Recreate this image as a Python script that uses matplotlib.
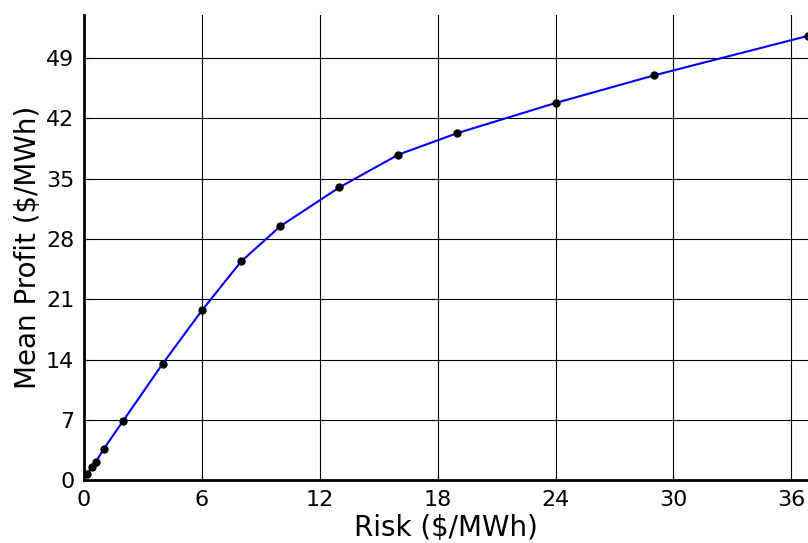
import matplotlib
matplotlib.use("Agg")
import matplotlib.pyplot as plt

risk = [0.15, 0.4, 0.6, 1.0, 2.0, 4.0, 6.0, 8.0, 10.0, 13.0, 16.0, 19.0, 24.0, 29.0, 36.85]
profit = [0.7, 1.5, 2.1, 3.6, 6.9, 13.5, 19.7, 25.4, 29.5, 34.0, 37.8, 40.3, 43.8, 47.0, 51.6]
xticks = [0, 6, 12, 18, 24, 30, 36]
yticks = [0, 7, 14, 21, 28, 35, 42, 49]

fig = plt.figure(figsize=(8.08, 5.43), dpi=100)
ax = fig.add_axes([0.104, 0.116, 0.896, 0.856])

ax.plot(risk, profit, color="blue", lw=1.5, zorder=3)
ax.plot(risk, profit, "o", color="black", ms=5, zorder=4, clip_on=False)

ax.set_xlim(0, 36.85)
ax.set_ylim(0, 54)
ax.set_xticks(xticks)
ax.set_yticks(yticks)
ax.grid(True, color="black", lw=0.8)
ax.tick_params(direction="in", labelsize=16, pad=7)
for s in ["top", "right"]:
    ax.spines[s].set_visible(False)
for s in ["left", "bottom"]:
    ax.spines[s].set_linewidth(2)

ax.set_xlabel("Risk ($/MWh)", fontsize=20, labelpad=3)
ax.set_ylabel("Mean Profit ($/MWh)", fontsize=20, labelpad=3)

fig.savefig("out.png", dpi=100)
